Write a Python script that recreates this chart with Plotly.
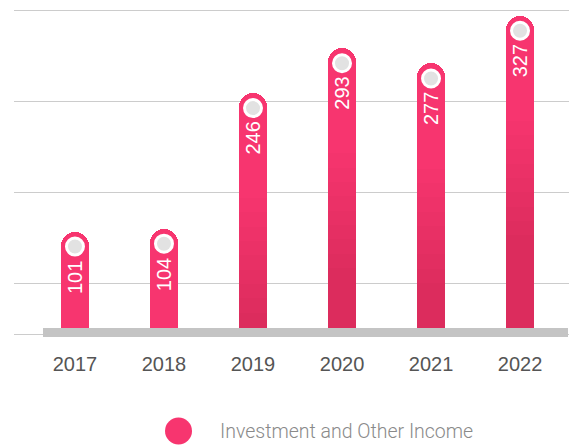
import plotly.graph_objects as go

years = ["2017", "2018", "2019", "2020", "2021", "2022"]
income = [101, 104, 246, 293, 277, 327]
series_name = "Investment and Other Income"

PINK = "#f7356f"
# fixed offsets below each bar top, used to fake the darker gradient at the bottom of tall bars
shade_offsets = [110, 125, 140, 155, 170, 185, 200, 215, 230]

fig = go.Figure()

fig.add_trace(go.Bar(
    x=years, y=income, width=0.315,
    marker=dict(color=PINK, cornerradius=14, line=dict(width=0)),
    showlegend=False, hoverinfo="x+y",
))

for d in shade_offsets:
    fig.add_trace(go.Bar(
        x=years, y=[max(v - d, 0) for v in income], width=0.315,
        marker=dict(color="rgba(60,0,20,0.015)", line=dict(width=0)),
        showlegend=False, hoverinfo="skip",
    ))

# grey dots near the top of each bar
fig.add_trace(go.Scatter(
    x=years, y=[v - 15.7 for v in income], mode="markers",
    marker=dict(size=17, color="#e2e2e2", line=dict(color="white", width=3)),
    showlegend=False, hoverinfo="skip", cliponaxis=False,
))

# value labels, rotated inside the bars (x as category index)
for i, v in enumerate(income):
    fig.add_annotation(
        x=i, y=v, yanchor="top", yshift=-27, text=str(v), textangle=-90,
        showarrow=False, font=dict(family="Liberation Sans", size=20, color="white"),
    )

# grey base strip
fig.add_shape(type="rect", xref="paper", yref="paper", x0=0.0515, x1=0.984,
              y0=-0.0092, y1=0.0184, fillcolor="#c4c4c4", line=dict(width=0), layer="above")

# legend drawn by hand (big dot)
fig.add_shape(type="circle", xref="paper", yref="paper",
              xsizemode="pixel", ysizemode="pixel", xanchor=0.2922, yanchor=-0.2975,
              x0=-13.5, x1=13.5, y0=-13.5, y1=13.5, fillcolor=PINK, line=dict(width=0))
fig.add_annotation(xref="paper", yref="paper", x=0.3623, y=-0.3006, xanchor="left", yanchor="middle",
                   text=series_name, showarrow=False,
                   font=dict(family="Roboto", weight=300, size=19.5, color="#8a8a8a"))

# page body has an 8px margin, so the figure is 8px smaller
fig.update_layout(
    width=569, height=438,
    margin=dict(l=6, r=0, t=0, b=112),
    barmode="overlay", bargap=0,
    plot_bgcolor="white", paper_bgcolor="white",
    showlegend=False,
)
fig.update_xaxes(
    type="category", range=[-0.685, 5.64], showline=True, linecolor="#cccccc", linewidth=1,
    ticks="outside", ticklen=12, tickcolor="rgba(0,0,0,0)", showgrid=False,
    tickfont=dict(family="Liberation Sans", size=20, color="#555555"),
)
fig.update_yaxes(
    range=[-6.28, 335.1], tickvals=[47.1, 142.4, 237.7, 332.8], showticklabels=False,
    showgrid=True, gridcolor="#cccccc", gridwidth=1, zeroline=False,
)

fig.write_html("out.html")
